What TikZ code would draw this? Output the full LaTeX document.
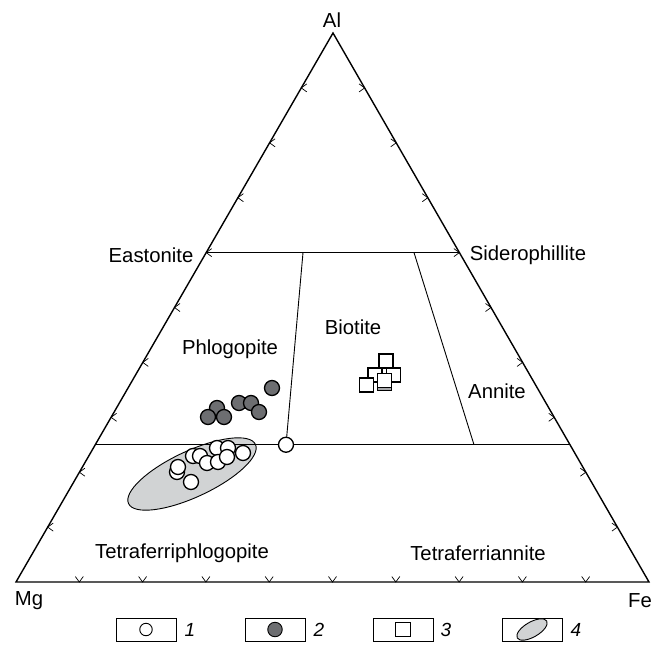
\documentclass[tikz,border=0pt]{standalone}
\usepackage{fontspec}
\setmainfont{Liberation Sans}
\usetikzlibrary{calc,shapes.geometric}
\definecolor{dotgray}{HTML}{6D6E71}
\definecolor{ellgray}{HTML}{D1D3D4}
\tikzset{
 frame/.style={line width=1.4pt},
 divline/.style={line width=0.9pt},
 tickmark/.style={line width=0.7pt},
 lbl/.style={font=\fontsize{20.3}{23}\selectfont, inner sep=0pt},
 num/.style={font=\fontsize{19}{22}\selectfont\itshape, inner sep=0pt},
 opendot/.style={circle, draw, line width=1.3pt, fill=white, minimum size=15pt, inner sep=0pt},
 graydot/.style={circle, draw, line width=1.3pt, fill=dotgray, minimum size=15pt, inner sep=0pt},
 sq/.style={rectangle, draw, line width=1.2pt, fill=white, minimum size=14pt, inner sep=0pt},
 legbox/.style={rectangle, draw, line width=0.9pt, minimum width=60pt, minimum height=23pt, inner sep=0pt},
 ellfield/.style={ellipse, draw, fill=ellgray, line width=0.9pt, inner sep=0pt},
}
\begin{document}
\begin{tikzpicture}[x=1pt,y=-1pt]
\useasboundingbox (0,0) rectangle (655,650);
% vertices
\coordinate (Mg) at (16,582);
\coordinate (Fe) at (649,582);
\coordinate (Al) at (333,33);
% boundary lines
\coordinate (EL) at ($(Mg)!0.6!(Al)$);
\coordinate (ER) at ($(Fe)!0.6!(Al)$);
\coordinate (TL) at ($(Mg)!0.25!(Al)$);
\coordinate (TR) at ($(Fe)!0.25!(Al)$);
\coordinate (D1t) at (303,252.6);
\coordinate (D1b) at (286,444.75);
\coordinate (D2t) at (414,252.6);
\coordinate (D2b) at (474,444.75);
% ellipse field
\node[ellfield, minimum width=140pt, minimum height=46pt, rotate=25] (ell) at (192,474) {};
% triangle
\draw[frame, line join=miter] (Mg) -- (Al) -- (Fe) -- cycle;
\draw[divline] (EL) -- (ER);
\draw[divline] (TL) -- (TR);
\draw[divline] (D1t) -- (D1b);
\draw[divline] (D2t) -- (D2b);
% ticks
\foreach \i in {1,...,9}{
  \draw[tickmark] ($(Mg)!{\i/10}!(Al)$) ++(5.5,-4) -- ++(-5.5,4) -- ++(5.5,4);
  \draw[tickmark] ($(Fe)!{\i/10}!(Al)$) ++(-5.5,-4) -- ++(5.5,4) -- ++(-5.5,4);
  \draw[tickmark] ($(Mg)!{\i/10}!(Fe)$) ++(-4,-5.5) -- ++(4,5.5) -- ++(4,-5.5);
}
% labels
\node[lbl] (lAl) at (332,20) {Al};
\node[lbl] (lMg) at (29,601) {Mg};
\node[lbl] (lFe) at (640,601) {Fe};
\node[lbl] (lEa) at (151,255) {Eastonite};
\node[lbl] (lSi) at (528,255) {Siderophillite};
\node[lbl] (lPh) at (230,349) {Phlogopite};
\node[lbl] (lBi) at (353,327) {Biotite};
\node[lbl] (lAn) at (497,391) {Annite};
\node[lbl] (lTp) at (182,553) {Tetraferriphlogopite};
\node[lbl] (lTa) at (478,553) {Tetraferriannite};
% boundary point
\node[opendot] (bp) at (D1b) {};
% gray dots (2)
\node[graydot] (g1) at (272,388) {};
\node[graydot] (g2) at (217,408) {};
\node[graydot] (g3) at (239,403) {};
\node[graydot] (g4) at (251,403) {};
\node[graydot] (g5) at (208,417) {};
\node[graydot] (g6) at (224,417) {};
\node[graydot] (g7) at (259,412) {};
% open dots (1)
\node[opendot] (w1) at (193,456) {};
\node[opendot] (w2) at (200,456) {};
\node[opendot] (w3) at (217,448) {};
\node[opendot] (w4) at (228,448) {};
\node[opendot] (w5) at (243,453) {};
\node[opendot] (w6) at (207,463) {};
\node[opendot] (w7) at (218,462) {};
\node[opendot] (w8) at (227,457) {};
\node[opendot] (w9) at (177,472) {};
\node[opendot] (w10) at (178,467) {};
\node[opendot] (w11) at (191,482) {};
% squares (3)
\node[sq] (s1) at (386,361) {};
\node[sq] (s2) at (393.5,375) {};
\node[sq] (s3) at (375,375) {};
\node[sq] (s4) at (366.5,385) {};
\node[sq, fill=dotgray!60] (s5) at (384.5,383.5) {};
\node[sq] (s6) at (384.5,380.5) {};
% legend
\node[legbox] (b1) at (146,629.5) {};
\node[legbox] (b2) at (275,629.5) {};
\node[legbox] (b3) at (403,629.5) {};
\node[legbox] (b4) at (532,629.5) {};
\node[circle, draw, line width=0.9pt, minimum size=12.5pt, inner sep=0pt] (k1) at (b1) {};
\node[circle, draw, line width=0.9pt, fill=dotgray, minimum size=14.5pt, inner sep=0pt] (k2) at (b2) {};
\node[rectangle, draw, line width=0.9pt, minimum width=15pt, minimum height=13.5pt, inner sep=0pt] (k3) at (b3) {};
\node[ellfield, minimum width=34pt, minimum height=15pt, rotate=30] (k4) at (b4) {};
\node[num, anchor=west] (n1) at ($(b1.east)+(8,0)$) {1};
\node[num, anchor=west] (n2) at ($(b2.east)+(8,0)$) {2};
\node[num, anchor=west] (n3) at ($(b3.east)+(7,0)$) {3};
\node[num, anchor=west] (n4) at ($(b4.east)+(8,0)$) {4};
\end{tikzpicture}
\end{document}
